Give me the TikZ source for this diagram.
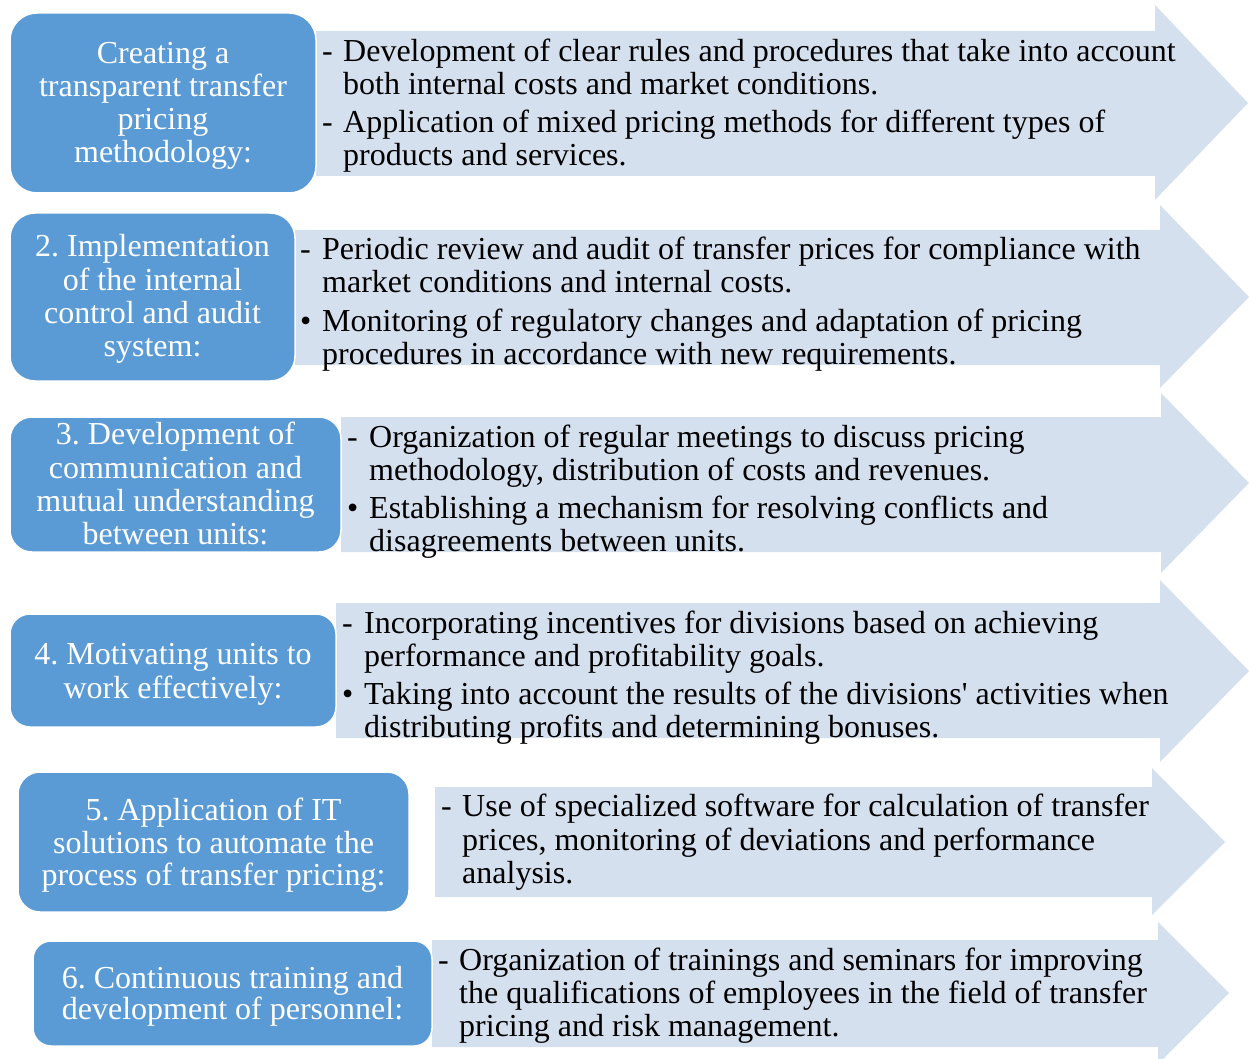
\documentclass[tikz,border=0pt]{standalone}
\usepackage{fontspec}
\setmainfont{Liberation Serif}
\frenchspacing
\definecolor{boxblue}{HTML}{5B9BD5}
\definecolor{arrowblue}{HTML}{D5E0EF}
\tikzset{
  boxst/.style={draw=white, line width=1.5pt, fill=boxblue, inner sep=0pt},
  arrowst/.style={fill=arrowblue},
  txt/.style={anchor=base west, inner sep=0pt, text=black, font=\fontsize{32}{33}\selectfont\frenchspacing, yshift=-1.5pt},
  btxt/.style={anchor=base, inner sep=0pt, text=white, font=\fontsize{32}{33}\selectfont\frenchspacing, yshift=-1pt}
}
\newcommand\myline[4]{\node[txt] (#1) at (#2,#3) {#4};}
\newcommand\myboxline[4]{\node[btxt] (#1) at (#2,#3) {#4};}
\begin{document}
\begin{tikzpicture}[x=1pt,y=-1pt]
\useasboundingbox (0,0) rectangle (1249,1059);
\clip (0,0) rectangle (1249,1059);
% arrows
\fill[arrowst] (316,31) -- (1155,31) -- (1155,5) -- (1248,103) -- (1155,200) -- (1155,176) -- (316,176) -- cycle;
\fill[arrowst] (295,230) -- (1160,230) -- (1160,205) -- (1249,297) -- (1160,388) -- (1160,365) -- (295,365) -- cycle;
\fill[arrowst] (341,417) -- (1161,417) -- (1161,393) -- (1249,483) -- (1161,573) -- (1161,552) -- (341,552) -- cycle;
\fill[arrowst] (336,603) -- (1160,603) -- (1160,580) -- (1249,671) -- (1160,762) -- (1160,738) -- (336,738) -- cycle;
\fill[arrowst] (435,787) -- (1152,787) -- (1152,768) -- (1225,842) -- (1152,915) -- (1152,897) -- (435,897) -- cycle;
\fill[arrowst] (432,940) -- (1158,940) -- (1158,922) -- (1229,993) -- (1158,1064) -- (1158,1047) -- (432,1047) -- cycle;
% boxes
\node[boxst, rounded corners=27pt, minimum width=306pt, minimum height=180pt] (box1) at (163,103) {};
\node[boxst, rounded corners=25pt, minimum width=285pt, minimum height=168pt] (box2) at (152.5,297) {};
\node[boxst, rounded corners=22pt, minimum width=331pt, minimum height=135pt] (box3) at (175.5,484.5) {};
\node[boxst, rounded corners=20pt, minimum width=326pt, minimum height=113pt] (box4) at (173,670.5) {};
\node[boxst, rounded corners=22pt, minimum width=391pt, minimum height=140pt] (box5) at (213.5,842) {};
\node[boxst, rounded corners=18pt, minimum width=399pt, minimum height=105pt] (box6) at (232.5,993.5) {};
% box texts
\myboxline{b1a}{163}{63}{Creating a}
\myboxline{b1b}{163}{96}{transparent transfer}
\myboxline{b1c}{163}{129}{pricing}
\myboxline{b1d}{163}{162}{methodology:}
\myboxline{b2a}{152.5}{256}{2. Implementation}
\myboxline{b2b}{152.5}{289}{of the internal}
\myboxline{b2c}{152.5}{322}{control and audit}
\myboxline{b2d}{152.5}{355}{system:}
\myboxline{b3a}{175.5}{443}{3. Development of}
\myboxline{b3b}{175.5}{477}{communication and}
\myboxline{b3c}{175.5}{510}{mutual understanding}
\myboxline{b3d}{175.5}{543}{between units:}
\myboxline{b4a}{173}{663}{4. Motivating units to}
\myboxline{b4b}{173}{697}{work effectively:}
\myboxline{b5a}{213.5}{819}{5. Application of IT}
\myboxline{b5b}{213.5}{852}{solutions to automate the}
\myboxline{b5c}{213.5}{884}{process of transfer pricing:}
\myboxline{b6a}{232.5}{987}{6. Continuous training and}
\myboxline{b6b}{232.5}{1018}{development of personnel:}
% row 1
\myline{r1m1}{322}{60}{-}
\myline{r1a}{343}{60}{Development of clear rules and procedures that take into account}
\myline{r1b}{343}{93}{both internal costs and market conditions.}
\myline{r1m2}{322}{131}{-}
\myline{r1c}{343}{131}{Application of mixed pricing methods for different types of}
\myline{r1d}{343}{164}{products and services.}
% row 2
\myline{r2m1}{300}{258}{-}
\myline{r2a}{322}{258}{Periodic review and audit of transfer prices for compliance with}
\myline{r2b}{322}{291}{market conditions and internal costs.}
\myline{r2m2}{300}{330}{•}
\myline{r2c}{322}{330}{Monitoring of regulatory changes and adaptation of pricing}
\myline{r2d}{322}{363}{procedures in accordance with new requirements.}
% row 3
\myline{r3m1}{347}{446}{-}
\myline{r3a}{369}{446}{Organization of regular meetings to discuss pricing}
\myline{r3b}{369}{479}{methodology, distribution of costs and revenues.}
\myline{r3m2}{347}{517}{•}
\myline{r3c}{369}{517}{Establishing a mechanism for resolving conflicts and}
\myline{r3d}{369}{550}{disagreements between units.}
% row 4
\myline{r4m1}{342}{632}{-}
\myline{r4a}{364}{632}{Incorporating incentives for divisions based on achieving}
\myline{r4b}{364}{665}{performance and profitability goals.}
\myline{r4m2}{342}{703}{•}
\myline{r4c}{364}{703}{Taking into account the results of the divisions\textquotesingle{} activities when}
\myline{r4d}{364}{736}{distributing profits and determining bonuses.}
% row 5
\myline{r5m1}{441}{815}{-}
\myline{r5a}{462}{815}{Use of specialized software for calculation of transfer}
\myline{r5b}{462}{849}{prices, monitoring of deviations and performance}
\myline{r5c}{462}{882}{analysis.}
% row 6
\myline{r6m1}{438}{969}{-}
\myline{r6a}{459}{969}{Organization of trainings and seminars for improving}
\myline{r6b}{459}{1002}{the qualifications of employees in the field of transfer}
\myline{r6c}{459}{1035}{pricing and risk management.}
\end{tikzpicture}
\end{document}
